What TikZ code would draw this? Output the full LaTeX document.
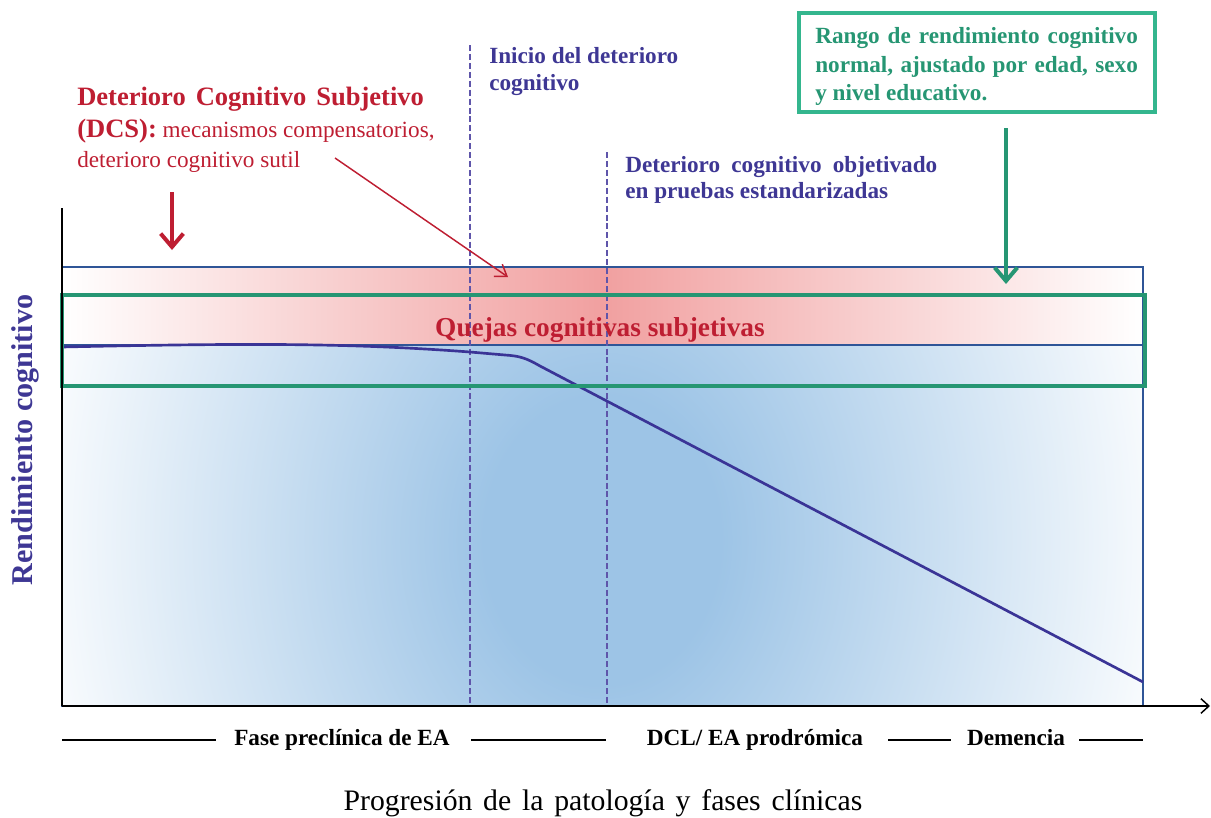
\documentclass[tikz,border=0pt]{standalone}
\usepackage{fontspec}
\setmainfont{Liberation Serif}
\usetikzlibrary{arrows.meta}
\definecolor{txtblue}{RGB}{62,55,148}
\definecolor{dashblue}{RGB}{95,85,170}
\definecolor{curveblue}{RGB}{58,52,150}
\definecolor{lineblue}{RGB}{47,85,151}
\definecolor{redC}{RGB}{190,30,50}
\definecolor{bandred}{RGB}{241,160,160}
\definecolor{greenT}{RGB}{38,150,115}
\definecolor{greenB}{RGB}{52,182,142}
\definecolor{shadeblue}{RGB}{157,196,230}
\pgfdeclareradialshading{blueglow}{\pgfpoint{0bp}{0bp}}{color(0bp)=(shadeblue); color(5bp)=(shadeblue); color(25bp)=(white); color(50bp)=(white)}
\tikzset{
  lbl/.style={inner sep=0pt, anchor=base west, font=\fontsize{17.4}{20.8}\selectfont\bfseries},
  vdash/.style={dashblue, line width=1.5pt, dash pattern=on 4.5pt off 2.2pt},
  bigarrow/.style={line width=3pt, -{Straight Barb[length=10pt,width=17pt]}},
  phase/.style={inner sep=0pt, anchor=base, font=\fontsize{17.4}{20.8}\selectfont\bfseries},
  phaseline/.style={black, line width=1.1pt}
}
\begin{document}
\begin{tikzpicture}[x=0.75pt,y=-0.75pt]
\useasboundingbox (0,0) rectangle (1211,818);
% blue glow area
\begin{scope}
  \clip (62,345) rectangle (1143,706);
  \shade[shading=blueglow] (602,540) ellipse [x radius=590, y radius=720];
\end{scope}
% red band
\shade[left color=white, right color=white, middle color=bandred] (62,267) rectangle (1143,345);
% frame and normal line
\draw[lineblue, line width=0.9pt] (62,267) rectangle (1143,706);
\draw[lineblue, line width=1.6pt] (62,345) -- (1143,345);
% dashed markers
\coordinate (d1top) at (470,45);
\coordinate (d1bot) at (470,706);
\coordinate (d2top) at (607,152);
\coordinate (d2bot) at (607,706);
\draw[vdash] (d1top) -- (d1bot);
\draw[vdash] (d2top) -- (d2bot);
% performance curve
\coordinate (c0) at (62,347);
\coordinate (c1) at (470,352);
\coordinate (c2) at (505,355);
\coordinate (c3) at (540,366);
\coordinate (c4) at (1143,682);
\draw[curveblue, line width=2pt, line join=round] (c0) .. controls (250,343) and (350,343) .. (c1) -- (c2) .. controls (520,356) and (526,358) .. (c3) -- (c4);
% green normal range box
\draw[greenT, line width=3pt] (62,295) rectangle (1145,386);
% axes
\coordinate (o) at (62,706);
\coordinate (ytop) at (62,208);
\coordinate (xend) at (1210,706);
\draw[black, line width=1.1pt] (o) -- (ytop);
\draw[black, line width=1.1pt, -{Straight Barb[length=6pt,width=11pt]}] (o) -- (xend);
% y label
\node[rotate=90, anchor=base, inner sep=0pt, text=txtblue, font=\fontsize{22.6}{26}\selectfont\bfseries] (ylab) at (32,440) {Rendimiento cognitivo};
% band label
\node[inner sep=0pt, anchor=base, text=redC, font=\fontsize{20.5}{24}\selectfont\bfseries] (quejas) at (600,336) {Quejas cognitivas subjetivas};
% DCS text
\node[inner sep=0pt, anchor=base west, text=redC, font=\fontsize{19.9}{24}\selectfont\bfseries] (dcs1) at (77,105) {\makebox[260pt][s]{Deterioro Cognitivo Subjetivo}};
\node[inner sep=0pt, anchor=base west, text=redC, font=\fontsize{17.4}{21}\selectfont] (dcs2) at (77,137.5) {{\fontsize{19.9}{24}\selectfont\bfseries (DCS):} mecanismos compensatorios,};
\node[inner sep=0pt, anchor=base west, text=redC, font=\fontsize{17.4}{21}\selectfont] (dcs3) at (77,167) {deterioro cognitivo sutil};
% DCS arrows
\coordinate (ra1) at (172,192);
\coordinate (ra2) at (172,250);
\draw[redC, bigarrow] (ra1) -- (ra2);
\coordinate (ta1) at (335,158);
\coordinate (ta2) at (508,277);
\draw[redC, line width=1.1pt, -{Straight Barb[length=8pt,width=11pt]}] (ta1) -- (ta2);
% blue labels
\node[lbl, text=txtblue] (ini1) at (489,63) {Inicio del deterioro};
\node[lbl, text=txtblue] (ini2) at (489,90) {cognitivo};
\node[lbl, text=txtblue] (obj1) at (625,172) {\makebox[234pt][s]{Deterioro cognitivo objetivado}};
\node[lbl, text=txtblue] (obj2) at (625,198) {en pruebas estandarizadas};
% green box
\draw[greenB, line width=2.4pt] (799,13) rectangle (1155,112);
\node[lbl, text=greenT] (g1) at (815,43) {\makebox[242pt][s]{Rango de rendimiento cognitivo}};
\node[lbl, text=greenT] (g2) at (815,72) {\makebox[242pt][s]{normal, ajustado por edad, sexo}};
\node[lbl, text=greenT] (g3) at (815,100) {y nivel educativo.};
\coordinate (ga1) at (1006,128);
\coordinate (ga2) at (1006,284);
\draw[greenT, bigarrow] (ga1) -- (ga2);
% phases
\node[phase] (ph1) at (342,745) {Fase preclínica de EA};
\node[phase] (ph2) at (755,745) {DCL/ EA prodrómica};
\node[phase] (ph3) at (1016,745) {Demencia};
\coordinate (l1a) at (62,740); \coordinate (l1b) at (216,740);
\coordinate (l2a) at (471,740); \coordinate (l2b) at (606,740);
\coordinate (l3a) at (888,740); \coordinate (l3b) at (951,740);
\coordinate (l4a) at (1079,740); \coordinate (l4b) at (1143,740);
\draw[phaseline] (l1a) -- (l1b);
\draw[phaseline] (l2a) -- (l2b);
\draw[phaseline] (l3a) -- (l3b);
\draw[phaseline] (l4a) -- (l4b);
% x label
\node[inner sep=0pt, anchor=base, font=\fontsize{22.3}{26}\selectfont] (xlab) at (603,810) {\makebox[389pt][s]{Progresión de la patología y fases clínicas}};
\end{tikzpicture}
\end{document}
